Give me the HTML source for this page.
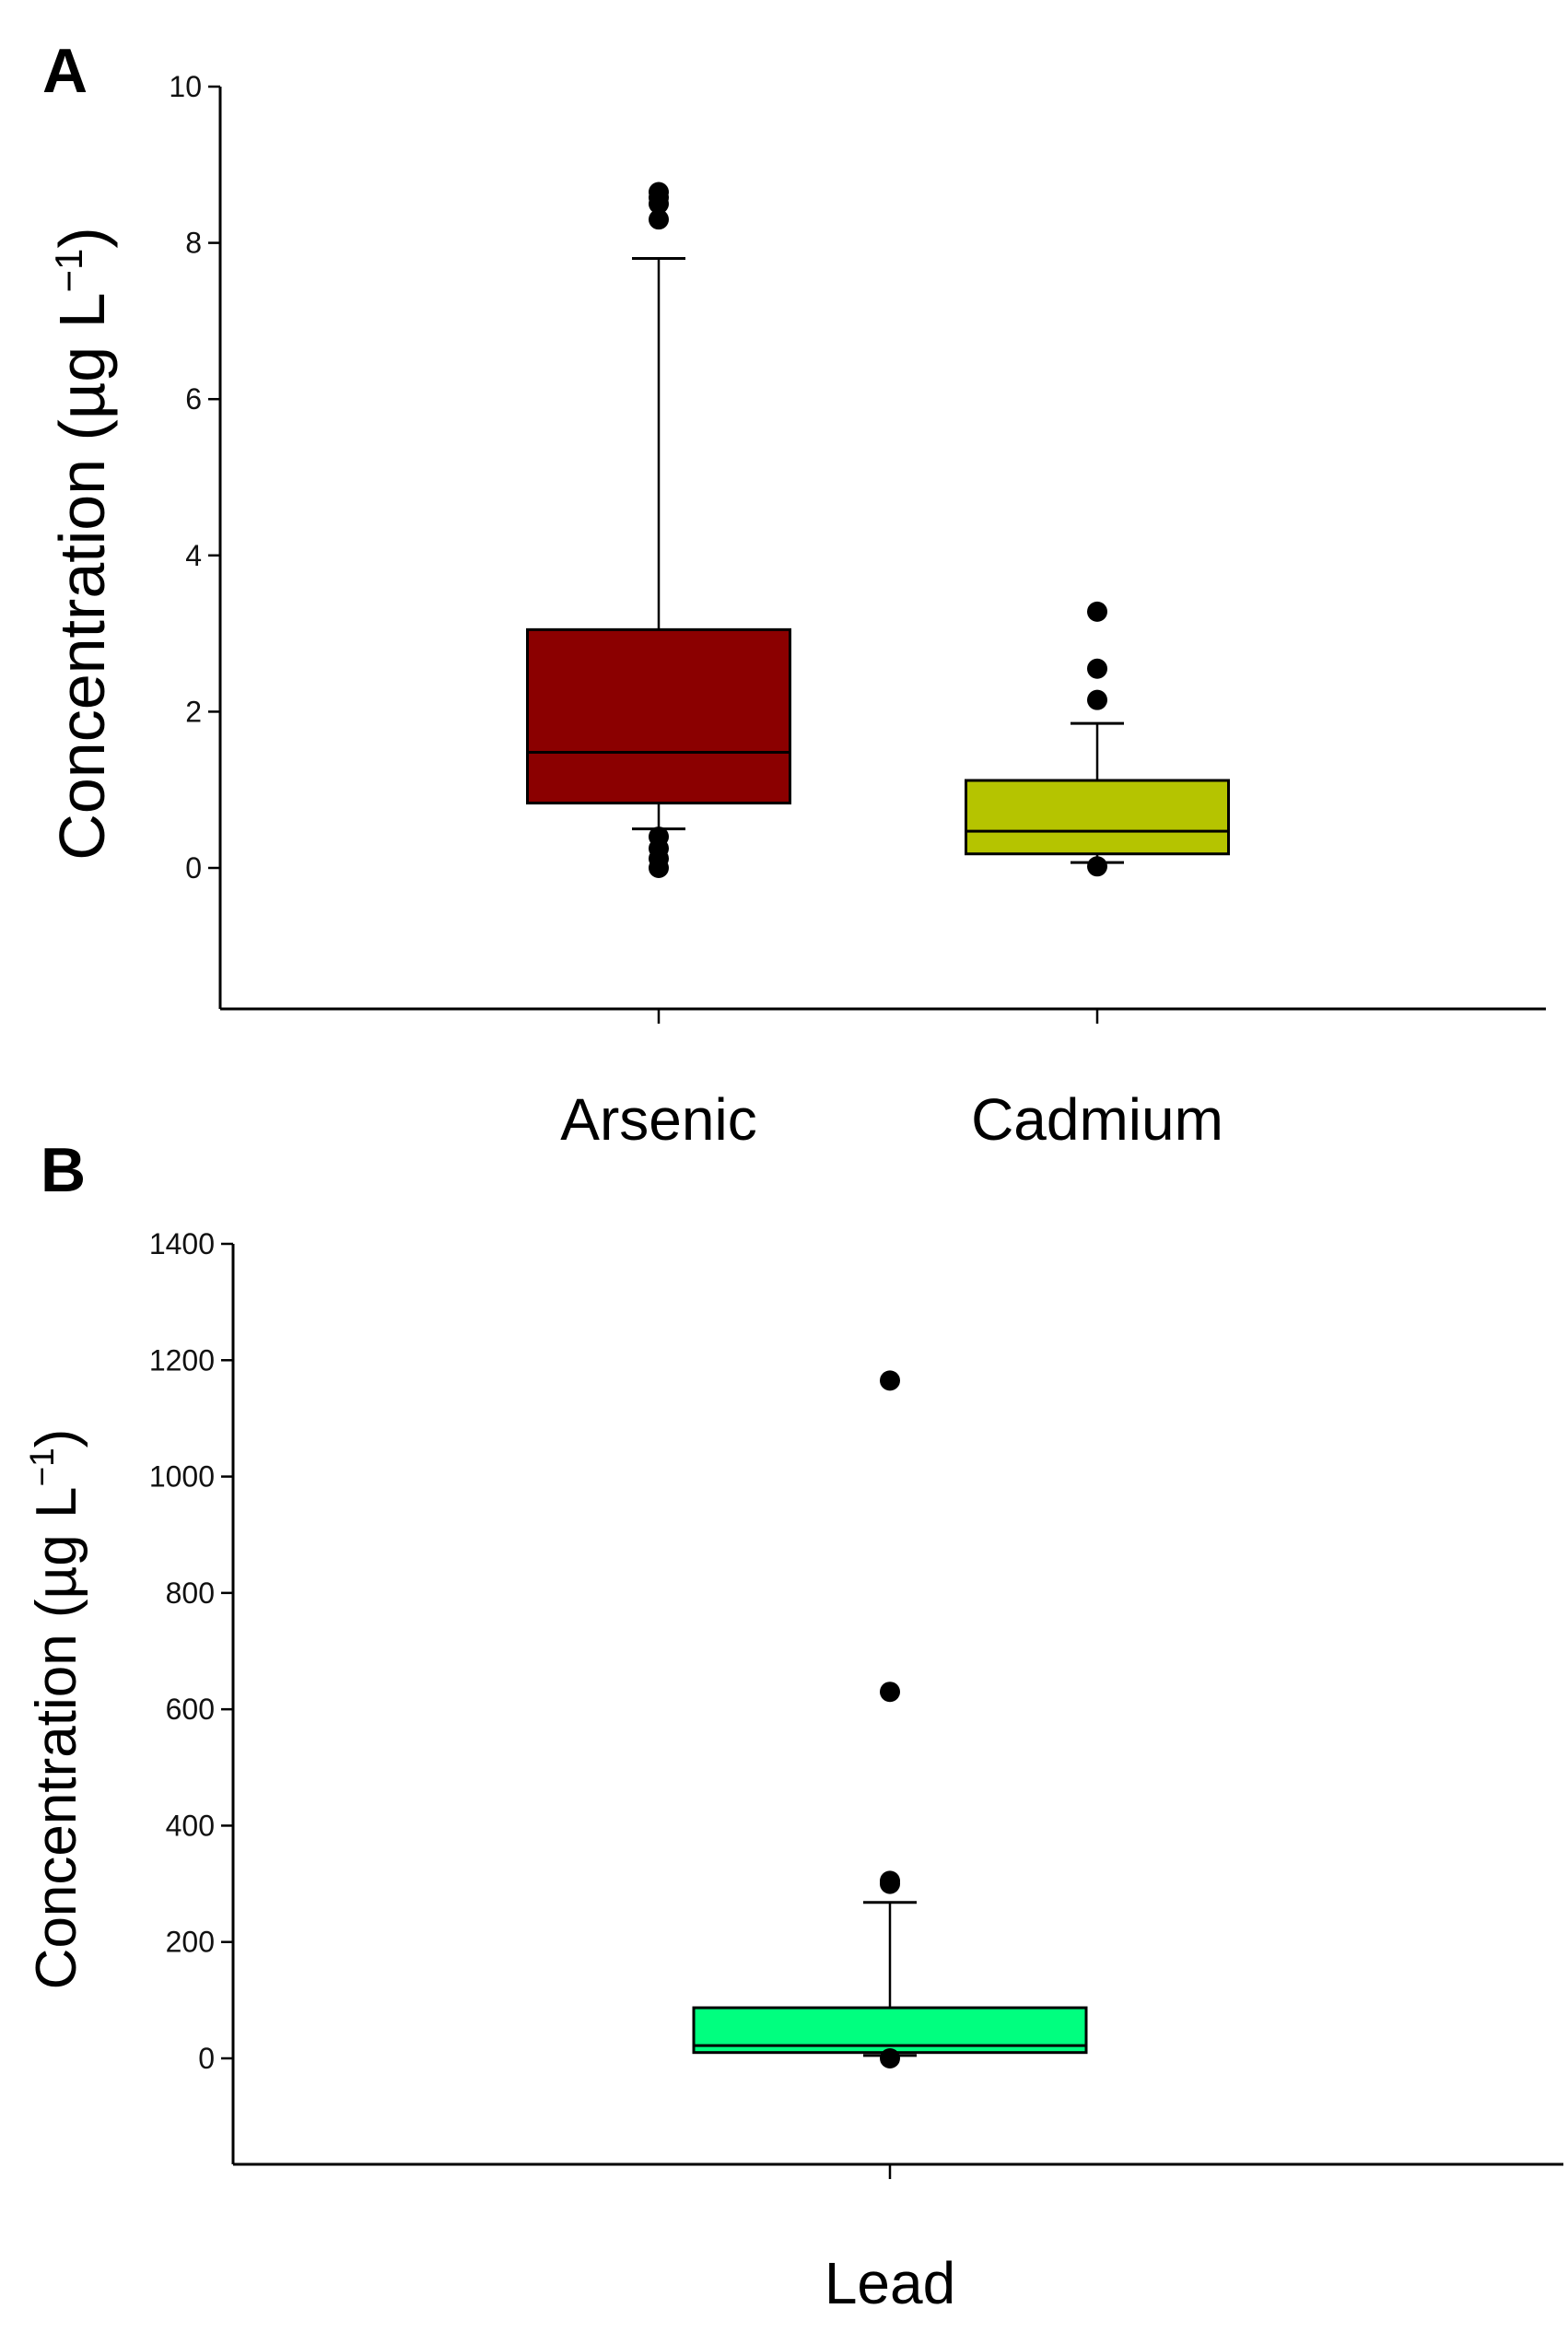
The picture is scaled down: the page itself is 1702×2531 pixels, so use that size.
<!DOCTYPE html>
<html><head><meta charset="utf-8"><style>
html,body{margin:0;padding:0;background:#fff;}
svg{display:block;font-family:"Liberation Sans",Arial,sans-serif;}
</style></head><body>
<svg id="chart" width="1702" height="2531" viewBox="0 0 1702 2531" xmlns="http://www.w3.org/2000/svg"></svg>
<script>
// Panel A data
const catsA = ["Arsenic", "Cadmium"];
const colorsA = ["#8b0000", "#b5c400"];
const q1A = [0.83, 0.18];
const medA = [1.48, 0.47];
const q3A = [3.05, 1.12];
const whiskLoA = [0.5, 0.07];
const whiskHiA = [7.8, 1.85];
const outliersA = [[8.65, 8.58, 8.5, 8.3, 0.4, 0.25, 0.12, 0.0], [3.28, 2.55, 2.15, 0.02]];
const ticksA = [0, 2, 4, 6, 8, 10];
// Panel B data
const catsB = ["Lead"];
const colorsB = ["#00ff7f"];
const q1B = [10];
const medB = [22];
const q3B = [87];
const whiskLoB = [5];
const whiskHiB = [268];
const outliersB = [[1165, 630, 305, 300, 0]];
const ticksB = [0, 200, 400, 600, 800, 1000, 1200, 1400];

const NS = "http://www.w3.org/2000/svg";
const svg = document.getElementById("chart");
function mk(tag, attrs, parent) {
  const e = document.createElementNS(NS, tag);
  for (const k in attrs) e.setAttribute(k, attrs[k]);
  (parent || svg).appendChild(e);
  return e;
}

function panel(cfg) {
  const g = mk("g", {});
  
  
  const y = v => cfg.y0 + (v - cfg.vmin) * (cfg.yTop - cfg.y0) / (cfg.vmax - cfg.vmin);
  const ya = mk("line", {x1: cfg.ax, y1: cfg.yTop, x2: cfg.ax, y2: cfg.axBottom, stroke: "#000", "stroke-width": 3}, g);
  
  
  const xa = mk("line", {x1: cfg.ax, y1: cfg.axBottom, x2: cfg.axRight, y2: cfg.axBottom, stroke: "#000", "stroke-width": 3}, g);
  
  
  cfg.ticks.forEach(t => {
    const tl = mk("line", {x1: cfg.ax - 13, y1: y(t), x2: cfg.ax, y2: y(t), stroke: "#000", "stroke-width": 2.5}, g);
    
    
    const tx = mk("text", {x: cfg.ax - 20, y: y(t) + 11, "text-anchor": "end", "font-size": 32, fill: "#111"}, g);
    tx.textContent = t;
    
    
  });
  cfg.cats.forEach((c, i) => {
    const cx = cfg.xs[i], hw = cfg.bw / 2;
    const ct = mk("line", {x1: cx, y1: cfg.axBottom, x2: cx, y2: cfg.axBottom + 16, stroke: "#000", "stroke-width": 2.5}, g);
    
    
    const wl = mk("line", {x1: cx, y1: y(cfg.whi[i]), x2: cx, y2: y(cfg.wlo[i]), stroke: "#000", "stroke-width": 2.5}, g);
    
    
    [cfg.whi[i], cfg.wlo[i]].forEach(v => {
      const cap = mk("line", {x1: cx - 29, y1: y(v), x2: cx + 29, y2: y(v), stroke: "#000", "stroke-width": 3}, g);
      
      
    });
    const box = mk("rect", {x: cx - hw, y: y(cfg.q3[i]), width: cfg.bw, height: y(cfg.q1[i]) - y(cfg.q3[i]), fill: cfg.colors[i], stroke: "#000", "stroke-width": 3}, g);
    
    
    const md = mk("line", {x1: cx - hw, y1: y(cfg.med[i]), x2: cx + hw, y2: y(cfg.med[i]), stroke: "#000", "stroke-width": 3}, g);
    
    
    cfg.out[i].forEach(v => {
      const d = mk("circle", {cx: cx, cy: y(v), r: 11, fill: "#000"}, g);
      
      
    });
    const lb = mk("text", {x: cx, y: cfg.labelY, "text-anchor": "middle", "font-size": 64, fill: "#000"}, g);
    lb.textContent = c;
    
    
  });
  const tt = mk("text", {x: 0, y: 0, "text-anchor": "middle", "font-size": cfg.titleSize, fill: "#000", transform: `translate(${cfg.titleX},${cfg.titleY}) rotate(-90)`}, g);
  tt.innerHTML = 'Concentration (µg L<tspan dy="-24" font-size="' + Math.round(cfg.titleSize*0.6) + '">−1</tspan><tspan dy="24">)</tspan>';
  
  
  const pl = mk("text", {x: cfg.letterX, y: cfg.letterY, "font-size": 68, "font-weight": "bold", fill: "#000"}, g);
  pl.textContent = cfg.letter;
  
  
}

panel({name: "panel-a", letter: "A", letterX: 46, letterY: 100, cats: catsA, colors: colorsA, q1: q1A, med: medA, q3: q3A, wlo: whiskLoA, whi: whiskHiA, out: outliersA, ticks: ticksA,
  vmin: 0, vmax: 10, y0: 942, yTop: 94, ax: 239, axBottom: 1095, axRight: 1678, xs: [715, 1191], bw: 285, labelY: 1237,
  titleX: 113, titleY: 590, titleSize: 70});
panel({name: "panel-b", letter: "B", letterX: 44, letterY: 1293, cats: catsB, colors: colorsB, q1: q1B, med: medB, q3: q3B, wlo: whiskLoB, whi: whiskHiB, out: outliersB, ticks: ticksB,
  vmin: 0, vmax: 1400, y0: 2234, yTop: 1350, ax: 253, axBottom: 2349, axRight: 1697, xs: [966], bw: 426, labelY: 2500,
  titleX: 82, titleY: 1855, titleSize: 62});
</script>
</body></html>
